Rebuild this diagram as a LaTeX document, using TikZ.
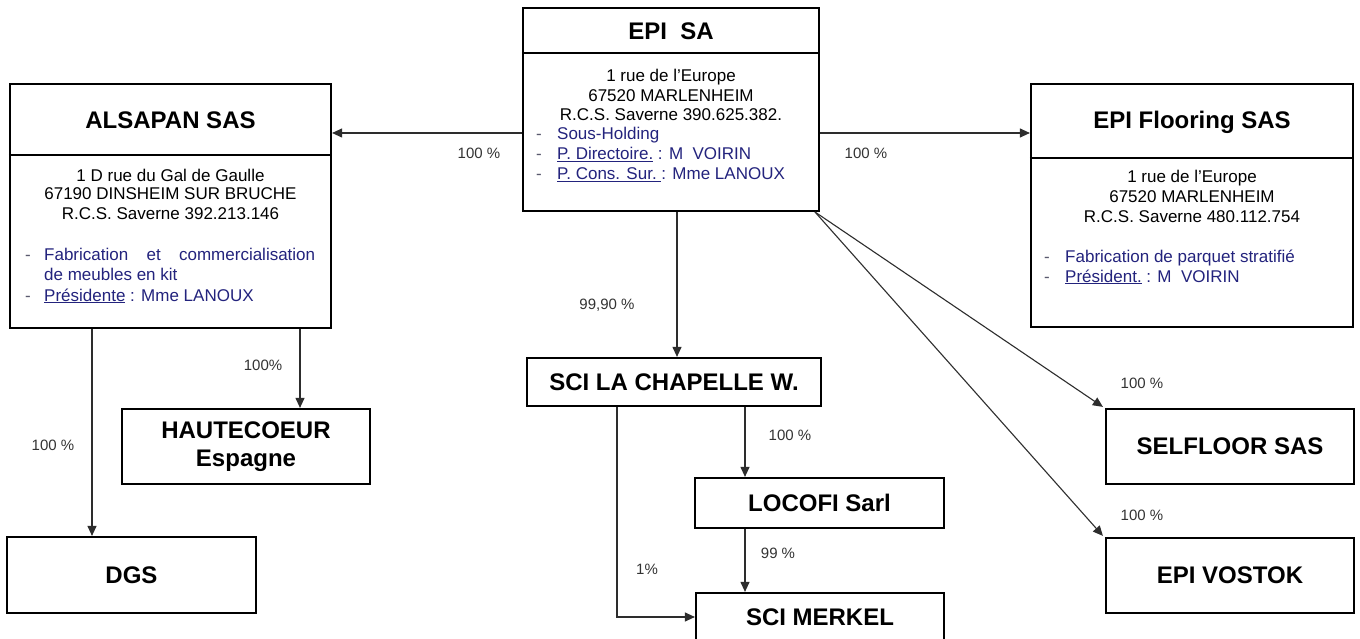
\documentclass[tikz,border=0pt]{standalone}
\usepackage{fontspec}
\setmainfont{Liberation Sans}
\usetikzlibrary{arrows.meta}
\definecolor{navy}{RGB}{35,35,125}
\definecolor{lnk}{RGB}{45,45,45}
\definecolor{dashc}{RGB}{90,90,110}
\begin{document}
\begin{tikzpicture}[x=1pt,y=-1pt,
  box/.style={draw=black,line width=2.2pt,inner sep=0pt,fill=none},
  title/.style={font=\fontsize{24}{28}\selectfont\bfseries,inner sep=0pt,align=center},
  body/.style={font=\fontsize{17}{19.5}\selectfont,inner sep=0pt,text height=12pt,text depth=0pt},
  item/.style={font=\fontsize{17}{19.5}\selectfont,inner sep=0pt,anchor=west,text=navy,text height=12pt,text depth=0pt},
  dashmark/.style={font=\fontsize{17}{19.5}\selectfont,inner sep=0pt,text=dashc,text height=12pt,text depth=0pt},
  pct/.style={font=\fontsize{15}{17}\selectfont,inner sep=0pt,text=black!80},
  divline/.style={draw=black,line width=1.6pt},
  arr/.style={draw=lnk,line width=1.1pt,-{Triangle[length=10pt,width=9pt]}}]
\useasboundingbox[fill=white] (0,0) rectangle (1360,639);

% ---------- EPI SA ----------
\node[box,minimum width=296pt,minimum height=203pt] (epi) at (671,109.5) {};
\draw[divline] (epi.north west) ++(0,46) -- ++(296,0);
\node[title] (epit) at (671,31) {EPI\ \ SA};
\node[body] (epi1) at (671,76) {1 rue de l'Europe};
\node[body] (epi2) at (671,95.5) {67520 MARLENHEIM};
\node[body] (epi3) at (671,115) {R.C.S. Saverne 390.625.382.};
\node[dashmark] (epid1) at (539,134) {-};
\node[dashmark] (epid2) at (539,154) {-};
\node[dashmark] (epid3) at (539,174) {-};
\node[item] (epii1) at (557,134) {Sous-Holding};
\node[item] (epii2) at (557,154) {\underline{P. Directoire.} : M\ \ VOIRIN};
\node[item] (epii3) at (557,174) {\underline{P. Cons. Sur.\ }: Mme LANOUX};

% ---------- ALSAPAN SAS ----------
\node[box,minimum width=321pt,minimum height=244pt] (als) at (170.5,206) {};
\draw[divline] (als.north west) ++(0,72) -- ++(321,0);
\node[title] (alst) at (170.5,120) {ALSAPAN SAS};
\node[body] (als1) at (170.5,176) {1 D rue du Gal de Gaulle};
\node[body] (als2) at (170.5,194) {67190 DINSHEIM SUR BRUCHE};
\node[body] (als3) at (170.5,214) {R.C.S. Saverne 392.213.146};
\node[dashmark] (alsd1) at (28,255) {-};
\node[dashmark] (alsd2) at (28,295) {-};
\node[item] (alsi1) at (44,255) {\hbox to 271pt{Fabrication\hfill et\hfill commercialisation}};
\node[item] (alsi1b) at (44,274.5) {de meubles en kit};
\node[item] (alsi2) at (44,295) {\underline{Présidente} : Mme LANOUX};

% ---------- EPI Flooring SAS ----------
\node[box,minimum width=322pt,minimum height=243pt] (flo) at (1192,205.5) {};
\draw[divline] (flo.north west) ++(0,75) -- ++(322,0);
\node[title] (flot) at (1192,122) {EPI Flooring SAS};
\node[body] (flo1) at (1192,177) {1 rue de l'Europe};
\node[body] (flo2) at (1192,197) {67520 MARLENHEIM};
\node[body] (flo3) at (1192,217) {R.C.S. Saverne 480.112.754};
\node[dashmark] (flod1) at (1047,256) {-};
\node[dashmark] (flod2) at (1047,276) {-};
\node[item] (floi1) at (1065,256) {Fabrication de parquet stratifié};
\node[item] (floi2) at (1065,276) {\underline{Président.} : M\ \ VOIRIN};

% ---------- other boxes ----------
\node[box,title,minimum width=294pt,minimum height=48pt] (chap) at (674,382) {SCI LA CHAPELLE W.};
\node[box,title,minimum width=249pt,minimum height=50pt] (loc) at (819.5,503) {LOCOFI Sarl};
\node[box,minimum width=248pt,minimum height=57pt] (mer) at (820,621.5) {};
\node[title] (mert) at (820,617) {SCI MERKEL};
\node[box,title,minimum width=248pt,minimum height=75pt] (hau) at (246,446.5) {HAUTECOEUR\\Espagne};
\node[box,title,minimum width=249pt,minimum height=76pt] (dgs) at (131.5,575) {DGS};
\node[box,title,minimum width=248pt,minimum height=75pt] (sel) at (1230,446.5) {SELFLOOR SAS};
\node[box,title,minimum width=248pt,minimum height=75pt] (vos) at (1230,575.5) {EPI VOSTOK};

% ---------- connectors ----------
\coordinate (fork) at (815,212);
\draw[arr] ([yshift=-23.5pt]epi.west) -- ([yshift=-23.5pt]epi.west -| als.east);
\draw[arr] ([yshift=-23.5pt]epi.east) -- ([yshift=-23.5pt]epi.east -| flo.west);
\draw[arr] ([xshift=6pt]epi.south) -- ([xshift=6pt]epi.south |- chap.north);
\draw[arr] (chap.south -| 745,0) -- (loc.north -| 745,0);
\draw[arr] (loc.south -| 745,0) -- (mer.north -| 745,0);
\draw[arr] (chap.south -| 617,0) -- (617,617) -- (mer.west |- 0,617);
\draw[arr] (als.south -| 92,0) -- (dgs.north -| 92,0);
\draw[arr] (als.south -| 300,0) -- (hau.north -| 300,0);
\draw[arr] (fork) -- ([shift={(-2pt,1pt)}]sel.north west);
\draw[arr] (fork) -- ([shift={(-2pt,1pt)}]vos.north west);

% ---------- percentages ----------
\node[pct] (p1) at (479,153) {100 \%};
\node[pct] (p2) at (866,153) {100 \%};
\node[pct] (p3) at (607,305) {99,90 \%};
\node[pct] (p4) at (790,435) {100 \%};
\node[pct] (p5) at (778,553) {99 \%};
\node[pct] (p6) at (647,569) {1\%};
\node[pct] (p7) at (263,365) {100\%};
\node[pct] (p8) at (53,445) {100 \%};
\node[pct] (p9) at (1142,383) {100 \%};
\node[pct] (p10) at (1142,515) {100 \%};
\end{tikzpicture}
\end{document}
